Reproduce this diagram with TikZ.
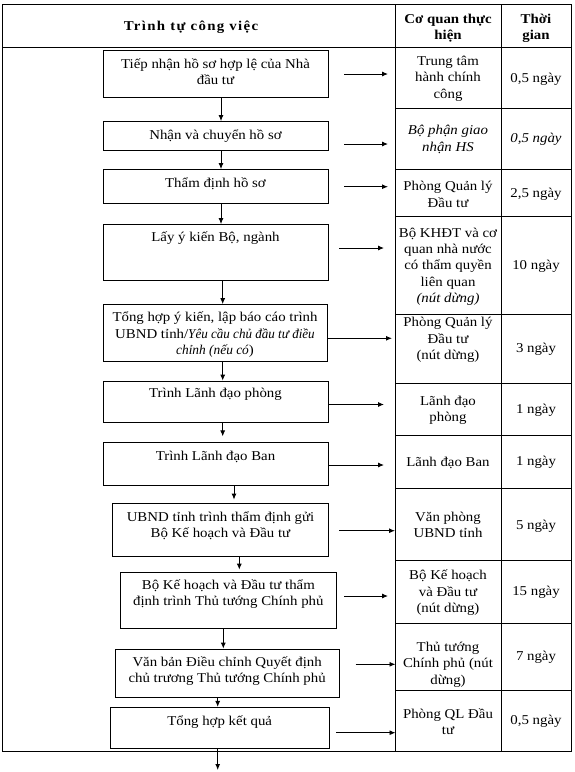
\documentclass[tikz,border=0pt]{standalone}
\usepackage{fontspec}
\usepackage{graphicx}
\setmainfont{Liberation Serif}[FakeStretch=1.1]
\usetikzlibrary{arrows.meta,calc}
\newcommand{\tx}[2]{\raisebox{\dimexpr -#1pt - 3.4pt\relax}[0pt][0pt]{\begin{tabular}{@{}c@{}}#2\end{tabular}}}
\newcommand{\bx}[7]{\node[box, minimum width={#4-#2}, minimum height={#5-#3}] (#1) at ({(#2+#4)/2},{(#3+#5)/2}) {\tx{#6}{#7}};}
\tikzset{
  every node/.style={font=\fontsize{13.5}{16.3}\selectfont},
  box/.style={draw, line width=0.8pt, inner sep=0pt, rectangle},
  cell/.style={align=center, inner sep=0pt},
  head/.style={align=center, inner sep=0pt, font=\fontsize{13.5}{16.3}\selectfont\bfseries},
  arr/.style={line width=0.9pt, -{Latex[length=6pt,width=5pt]}},
  grid/.style={line width=0.8pt, draw=black},
}
\begin{document}
\begin{tikzpicture}[x=1pt,y=-1pt]
\useasboundingbox (0,0) rectangle (575,772);
% table
\draw[grid] (2,4.5) rectangle (571.5,751.5);
\draw[grid] (2,47.5) -- (571.5,47.5);
\draw[grid] (395,4.5) -- (395,751.5);
\draw[grid] (501,4.5) -- (501,751.5);
\foreach \yy in {108,169.5,216,314,383.5,435,488.5,560,623.5,690}
  \draw[grid] (395,\yy) -- (571.5,\yy);
% headers
\node[head, font=\fontsize{13.5}{16.3}\selectfont\bfseries\addfontfeature{LetterSpace=10}] (h1) at (191,27) {Trình tự công việc};
\node[head] (h2) at (448,28) {Cơ quan thực\\hiện};
\node[head] (h3) at (536,28) {Thời\\gian};
% boxes
\bx{b1}{103}{50}{328}{97.5}{0}{Tiếp nhận hồ sơ hợp lệ của Nhà\\đầu tư}
\bx{b2}{103}{121.5}{328}{150.5}{0}{Nhận và chuyển hồ sơ}
\bx{b3}{103}{169.5}{328}{203.5}{-2.5}{Thẩm định hồ sơ}
\bx{b4}{103}{224.5}{328}{280}{-14}{Lấy ý kiến Bộ, ngành}
\bx{b5}{103}{304.5}{327}{361.5}{2}{Tổng hợp ý kiến, lập báo cáo trình\\UBND tỉnh/\scalebox{0.88}[1]{\textit{Yêu cầu chủ đầu tư điều}}\\\scalebox{0.9}[1]{\textit{chỉnh (nếu có}})}
\bx{b6}{103}{381}{328}{422.7}{-7}{Trình Lãnh đạo phòng}
\bx{b7}{103}{442.3}{328}{485.7}{-7}{Trình Lãnh đạo Ban}
\bx{b8}{112.7}{503.3}{328.3}{556.7}{-3.3}{UBND tỉnh trình thẩm định gửi\\Bộ Kế hoạch và Đầu tư}
\bx{b9}{120}{572.7}{336.7}{628.3}{-6}{Bộ Kế hoạch và Đầu tư thẩm\\định trình Thủ tướng Chính phủ}
\bx{b10}{115}{649}{339.3}{697.3}{-2}{Văn bản Điều chỉnh Quyết định\\chủ trương Thủ tướng Chính phủ}
\bx{b11}{110}{707.3}{329.3}{748.3}{-5}{Tổng hợp kết quả}
% column 2 cells
\node[cell] (c1) at (448,78.7) {Trung tâm\\hành chính\\công};
\node[cell] (c2) at (448,139.5) {\itshape Bộ phận giao\\\itshape nhận HS};
\node[cell] (c3) at (448,194.5) {Phòng Quản lý\\Đầu tư};
\node[cell] (c4) at (448,266.5) {Bộ KHĐT và cơ\\quan nhà nước\\có thẩm quyền\\liên quan\\\textit{(nút dừng)}};
\node[cell] (c5) at (448,340) {Phòng Quản lý\\Đầu tư\\(nút dừng)};
\node[cell] (c6) at (448,410.5) {Lãnh đạo\\phòng};
\node[cell] (c7) at (448,463) {Lãnh đạo Ban};
\node[cell] (c8) at (448,525) {Văn phòng\\UBND tỉnh};
\node[cell] (c9) at (448,592.6) {Bộ Kế hoạch\\và Đầu tư\\(nút dừng)};
\node[cell] (c10) at (448,664.7) {Thủ tướng\\Chính phủ (nút\\dừng)};
\node[cell] (c11) at (448,722) {Phòng QL Đầu\\tư};
% column 3 cells
\node[cell] (t1) at (536,79.3) {0,5 ngày};
\node[cell] (t2) at (536,139.3) {\textit{0,5 ngày}};
\node[cell] (t3) at (536,194) {2,5 ngày};
\node[cell] (t4) at (536,266) {10 ngày};
\node[cell] (t5) at (536,349.3) {3 ngày};
\node[cell] (t6) at (536,410.7) {1 ngày};
\node[cell] (t7) at (536,462.7) {1 ngày};
\node[cell] (t8) at (536,526.7) {5 ngày};
\node[cell] (t9) at (536,592.7) {15 ngày};
\node[cell] (t10) at (536,657.7) {7 ngày};
\node[cell] (t11) at (536,721.7) {0,5 ngày};
% vertical arrows
\draw[arr] (221,0 |- b1.south) -- (221,0 |- b2.north);
\draw[arr] (221,0 |- b2.south) -- (221,0 |- b3.north);
\draw[arr] (221,0 |- b3.south) -- (221,0 |- b4.north);
\draw[arr] (222.7,0 |- b4.south) -- (222.7,0 |- b5.north);
\draw[arr] (222.7,0 |- b5.south) -- (222.7,0 |- b6.north);
\draw[arr, shorten >=5.5pt] (222.7,0 |- b6.south) -- (222.7,0 |- b7.north);
\draw[arr, shorten >=3.3pt] (234,0 |- b7.south) -- (234,0 |- b8.north);
\draw[arr, shorten >=2.7pt] (239.3,0 |- b8.south) -- (239.3,0 |- b9.north);
\draw[arr] (223.3,0 |- b9.south) -- (223.3,0 |- b10.north);
\draw[arr] (217.7,0 |- b10.south) -- (217.7,0 |- b11.north);
\coordinate (endpt) at (217.7,770);
\draw[arr] (217.7,0 |- b11.south) -- (endpt);
% horizontal arrows
\coordinate (s1) at (344,74);    \coordinate (e1) at (388,74);
\coordinate (s2) at (344,144);   \coordinate (e2) at (388,144);
\coordinate (s3) at (344,186.7); \coordinate (e3) at (388,186.7);
\coordinate (s4) at (339,248);   \coordinate (e4) at (384,248);
\coordinate (e5) at (392,338.3);
\coordinate (e6) at (384,404.5);
\coordinate (e7) at (384,465);
\coordinate (s8) at (339,530.7); \coordinate (e8) at (395,530.7);
\coordinate (s9) at (344,596);   \coordinate (e9) at (388,596);
\coordinate (s10) at (355.7,664.3); \coordinate (e10) at (395.5,664.3);
\coordinate (s11) at (336,732.7); \coordinate (e11) at (395.5,732.7);
\draw[arr] (s1) -- (e1);
\draw[arr] (s2) -- (e2);
\draw[arr] (s3) -- (e3);
\draw[arr] (s4) -- (e4);
\draw[arr] (b5.east |- e5) -- (e5);
\draw[arr] (b6.east |- e6) -- (e6);
\draw[arr] (b7.east |- e7) -- (e7);
\draw[arr] (s8) -- (e8);
\draw[arr] (s9) -- (e9);
\draw[arr] (s10) -- (e10);
\draw[arr] (s11) -- (e11);
\end{tikzpicture}
\end{document}
